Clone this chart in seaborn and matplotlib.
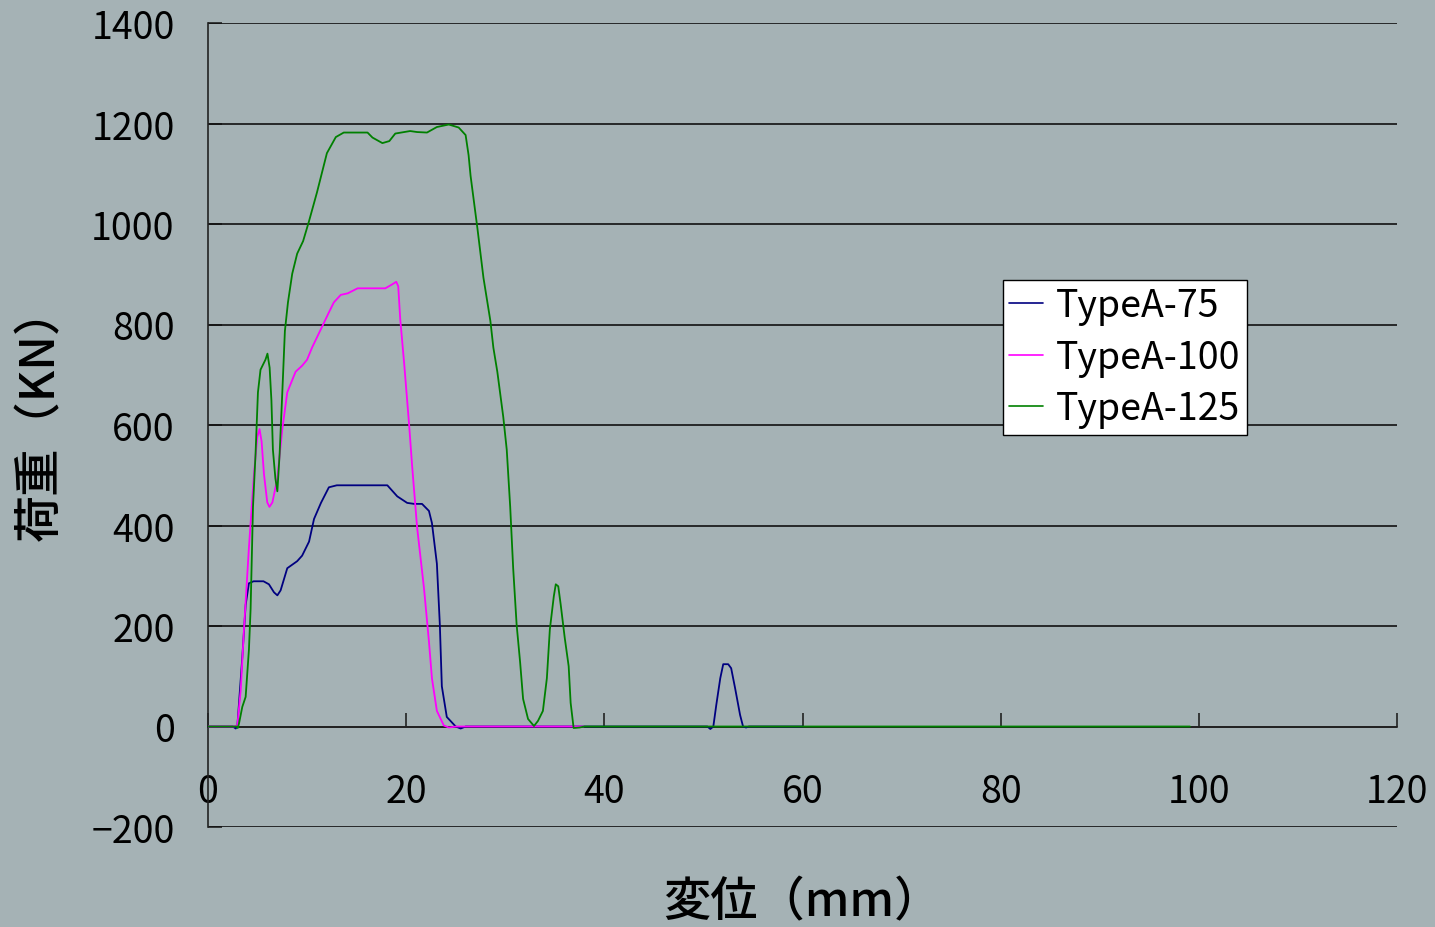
import numpy as np
import pandas as pd
import matplotlib
matplotlib.use("Agg")
import matplotlib.pyplot as plt
import seaborn as sns

series_names = ["TypeA-75", "TypeA-100", "TypeA-125"]
series_colors = ["#000080", "#FF00FF", "#008000"]

x75 = [0, 2.5, 2.8, 2.96, 3.46, 3.8, 4.13, 4.6, 5.6, 6.15, 6.66, 7.0, 7.33, 8.0, 9.0, 9.5, 10.2, 10.7,
       11.4, 12.2, 13.0, 18.1, 19.1, 20.1, 20.8, 21.6, 22.3, 22.6, 23.1, 23.4, 23.6, 24.1, 25.0, 25.5, 26.0,
       50.4, 50.7, 51.0, 51.3, 51.7, 52.0, 52.5, 52.8, 53.2, 53.7, 54.0, 54.3, 54.6, 60.0]
y75 = [0, 0, -4, 0, 137, 242, 285, 289, 289, 283, 267, 261, 271, 315, 329, 340, 368, 413,
       445, 476, 480, 480, 458, 445, 443, 443, 429, 405, 324, 202, 80, 19, 0, -4, 0,
       0, -5, 0, 43, 96, 124, 124, 116, 76, 23, 0, -2, 0, 0]

x100 = [0, 2.6, 2.96, 3.3, 3.63, 4.13, 4.64, 4.97, 5.2, 5.41, 5.65, 5.98, 6.2, 6.5, 7.0, 7.5, 8.0, 8.84,
        9.5, 10.0, 10.5, 11.4, 12.2, 12.7, 13.4, 14.1, 15.1, 17.9, 18.6, 19.0, 19.2, 19.4, 19.8, 20.3,
        20.6, 21.1, 21.8, 22.3, 22.6, 23.1, 23.8, 24.3, 25.1, 37.9]
y100 = [0, 0, 2, 72, 193, 356, 502, 576, 592, 567, 502, 446, 437, 446, 494, 592, 665, 706,
        718, 730, 754, 791, 824, 844, 859, 862, 872, 872, 880, 885, 876, 811, 722, 600,
        519, 397, 275, 169, 96, 31, 2, -2, 0, 0]

x125 = [0, 2.9, 3.0, 3.13, 3.46, 3.8, 4.13, 4.3, 4.54, 4.8, 5.04, 5.3, 5.8, 6.0, 6.22, 6.4, 6.55, 6.8,
        7.0, 7.23, 7.5, 7.76, 8.07, 8.5, 9.0, 9.6, 10.2, 11.0, 12.0, 12.9, 13.7, 16.1, 16.6, 17.6, 18.3,
        18.9, 20.4, 21.1, 22.1, 23.1, 24.3, 25.3, 26.0, 26.3, 26.5, 27.2, 27.8, 28.5, 28.8, 29.2, 29.8,
        30.15, 30.5, 30.8, 31.15, 31.5, 31.8, 32.3, 32.9, 33.3, 33.8, 34.2, 34.5, 34.9, 35.1, 35.35,
        35.6, 36.0, 36.4, 36.6, 36.9, 37.5, 38.0, 99.1]
y125 = [0, 0, -3, 6, 39, 59, 153, 234, 437, 543, 665, 710, 730, 742, 714, 649, 551, 494,
        468, 543, 665, 787, 844, 901, 941, 966, 1006, 1063, 1141, 1173, 1182, 1182, 1172, 1161, 1165,
        1180, 1185, 1183, 1182, 1193, 1198, 1192, 1177, 1137, 1096, 990, 893, 807, 754, 706, 616,
        551, 437, 315, 202, 128, 55, 15, 1, 11, 31, 96, 193, 259, 283, 279,
        242, 177, 120, 47, -3, -2, 0, 0]

x_ticks = [0, 20, 40, 60, 80, 100, 120]
y_ticks = [-200, 0, 200, 400, 600, 800, 1000, 1200, 1400]

frames = []
for name, xs, ys in zip(series_names, [x75, x100, x125], [y75, y100, y125]):
    frames.append(pd.DataFrame({"x": xs, "y": ys, "series": name}))
df = pd.concat(frames, ignore_index=True)

sns.set_theme(style="white")
plt.rcParams['font.family'] = ['Noto Sans CJK JP', 'DejaVu Sans']
plt.rcParams['axes.unicode_minus'] = True
plt.rcParams['text.color'] = 'black'
plt.rcParams['axes.labelcolor'] = 'black'
plt.rcParams['xtick.color'] = 'black'
plt.rcParams['ytick.color'] = 'black'

bg = "#A5B2B5"
fig = plt.figure(figsize=(14.35, 9.28), dpi=100, facecolor=bg)
ax = fig.add_axes([208/1435, 1-828/928, (1397-208)/1435, (828-24)/928])
ax.set_facecolor(bg)

ax.set_xlim(0, 120)
ax.set_ylim(-200, 1400)
for yt in y_ticks:
    ax.axhline(yt, color="#111111", lw=1.2, zorder=1)

sns.lineplot(data=df, x="x", y="y", hue="series", hue_order=series_names,
             palette=series_colors, estimator=None, sort=False, lw=1.3, ax=ax, zorder=3)

for s in ["top", "right"]:
    ax.spines[s].set_visible(False)
ax.spines["left"].set_color("#222222")
ax.spines["left"].set_linewidth(1.2)
ax.spines["bottom"].set_position(("data", 0))
ax.spines["bottom"].set_color("#222222")
ax.spines["bottom"].set_linewidth(1.2)

ax.set_xticks(x_ticks)
ax.set_yticks(y_ticks)
ax.set_xticklabels([str(v) for v in x_ticks])
ax.set_yticklabels(["\u2212200" if v < 0 else str(v) for v in y_ticks])
ax.tick_params(axis="x", direction="in", length=10, width=1.2, color="#222222",
               labelsize=27, labelcolor="black", pad=33, bottom=True)
ax.tick_params(axis="y", direction="in", length=10, width=1.2, color="#222222",
               labelsize=27, labelcolor="black", pad=24, left=True)

ax.set_xlabel("変位（mm）", fontsize=34, fontweight="medium", color="black")
ax.set_ylabel("荷重（KN）", fontsize=34, fontweight="medium", color="black")
ax.xaxis.set_label_coords(0.5, -0.093)
ax.xaxis.label.set_va("center")
ax.yaxis.set_label_coords(-0.141, 0.516)
ax.yaxis.label.set_va("center")

leg = ax.legend(loc="upper left", bbox_to_anchor=((1003-208)/1189, (828-281)/804),
                borderaxespad=0, fontsize=27, frameon=True, fancybox=False,
                handlelength=0.9, handletextpad=0.35, labelspacing=0.33,
                borderpad=0.17, title=None)
leg.get_frame().set_facecolor("white")
leg.get_frame().set_edgecolor("black")
leg.get_frame().set_linewidth(1.0)
leg.get_frame().set_alpha(1)
for line in leg.get_lines():
    line.set_linewidth(1.2)
for t in leg.get_texts():
    t.set_color("black")

fig.savefig("out.png", dpi=100, facecolor=bg)
